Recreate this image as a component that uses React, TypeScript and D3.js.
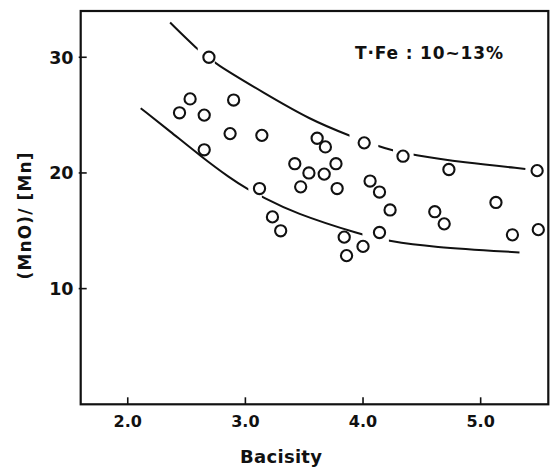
import * as d3 from "d3";
import React from "react";

// basicity vs (MnO)/[Mn], T.Fe 10~13%
const pointsX = [
  2.69, 2.53, 2.44, 2.65, 2.9, 2.87, 2.65, 3.14, 3.61, 3.68, 4.01, 4.34,
  4.73, 5.48, 3.42, 3.54, 3.67, 3.77, 3.47, 3.78, 3.12, 4.06, 4.14, 4.23,
  4.61, 4.69, 5.13, 5.27, 5.49, 3.23, 3.3, 4.14, 3.84, 4.0, 3.86,
];
const pointsY = [
  30.0, 26.4, 25.2, 25.0, 26.3, 23.4, 22.0, 23.25, 23.0, 22.25, 22.6, 21.45,
  20.3, 20.2, 20.8, 20.0, 19.9, 20.8, 18.8, 18.65, 18.65, 19.3, 18.35, 16.8,
  16.65, 15.6, 17.45, 14.65, 15.1, 16.2, 15.0, 14.85, 14.45, 13.65, 12.85,
];

// hand-drawn bounding curves, with the gaps the draughtsman left
const upperCurve = [
  [2.36, 33.0], [2.59, 30.7], [2.74, 29.45], [3.16, 26.9], [3.55, 24.6],
  [3.89, 23.2], [4.13, 22.3], [4.25, 21.95], [4.43, 21.55], [4.85, 20.9],
  [5.38, 20.35],
];
const upperGaps = [[2.595, 2.74], [3.885, 4.13], [4.255, 4.43]];

const lowerCurve = [
  [2.11, 25.6], [2.36, 23.6], [2.62, 21.45], [2.87, 19.55], [3.02, 18.6],
  [3.14, 17.95], [3.41, 16.55], [3.99, 14.65], [4.22, 14.1], [4.57, 13.6],
  [5.33, 13.13],
];
const lowerGaps = [[3.025, 3.14], [3.995, 4.22]];

const xTicks = [2.0, 3.0, 4.0, 5.0];
const yTicks = [10, 20, 30];

const W = 550;
const H = 468;
const font = "'DejaVu Sans', sans-serif";

export default function App() {
  const x = d3.scaleLinear().domain([1.6, 5.575]).range([80.7, 548.3]);
  const y = d3.scaleLinear().domain([0, 34]).range([404.3, 11]);

  const line = d3
    .line<number[]>()
    .x((d) => x(d[0]))
    .y((d) => y(d[1]))
    .curve(d3.curveBasis);

  const gapMask = (id: string, gaps: number[][]) => (
    <mask id={id} maskUnits="userSpaceOnUse" x={0} y={0} width={W} height={H}>
      <rect x={0} y={0} width={W} height={H} fill="white" />
      {gaps.map((g, i) => (
        <rect key={i} x={x(g[0])} y={0} width={x(g[1]) - x(g[0])} height={H} fill="black" />
      ))}
    </mask>
  );

  const [x0, x1] = x.range();
  const [y0, y1] = y.range();

  return (
    <div style={{ position: "absolute", left: 0, top: 0 }}>
      <svg width={W} height={H} style={{ display: "block", background: "#fff" }}>
        <defs>
          {gapMask("upperGap", upperGaps)}
          {gapMask("lowerGap", lowerGaps)}
        </defs>

        {/* frame */}
        <rect x={x0} y={y1} width={x1 - x0} height={y0 - y1} fill="none" stroke="#111" strokeWidth={2.2} />

        {/* ticks, drawn inward */}
        {xTicks.map((t) => (
          <g key={t}>
            <line x1={x(t)} x2={x(t)} y1={y0} y2={y0 - 7} stroke="#111" strokeWidth={1.6} />
            <text x={x(t)} y={427} textAnchor="middle" fontFamily={font} fontWeight="bold" fontSize={16} fill="#111">
              {t.toFixed(1)}
            </text>
          </g>
        ))}
        {yTicks.map((t) => (
          <g key={t}>
            <line x1={x0 - 2} x2={x0 + 6} y1={y(t)} y2={y(t)} stroke="#111" strokeWidth={1.6} />
            <text x={73.5} y={y(t)} dy="0.36em" textAnchor="end" fontFamily={font} fontWeight="bold" fontSize={17.5} fill="#111">
              {t}
            </text>
          </g>
        ))}

        {/* axis titles */}
        <text x={281} y={463} textAnchor="middle" fontFamily={font} fontWeight="bold" fontSize={18}
          textLength={82} lengthAdjust="spacing" fill="#111">
          Bacisity
        </text>
        <text transform="translate(31,216) rotate(-90)" textAnchor="middle" fontFamily={font} fontWeight="bold"
          fontSize={17} textLength={127} lengthAdjust="spacing" fill="#111">
          (MnO)/ [Mn]
        </text>

        {/* annotation */}
        <text x={355} y={58.5} fontFamily={font} fontWeight="bold" fontSize={17}
          textLength={148} lengthAdjust="spacing" fill="#111">
          T·Fe : 10~13%
        </text>

        {/* curves */}
        <path d={line(upperCurve) ?? ""} fill="none" stroke="#111" strokeWidth={2} mask="url(#upperGap)" />
        <path d={line(lowerCurve) ?? ""} fill="none" stroke="#111" strokeWidth={2} mask="url(#lowerGap)" />

        {/* data points */}
        {pointsX.map((px, i) => (
          <circle key={i} cx={x(px)} cy={y(pointsY[i])} r={5.6} fill="none" stroke="#111" strokeWidth={2.1} />
        ))}
      </svg>
    </div>
  );
}
